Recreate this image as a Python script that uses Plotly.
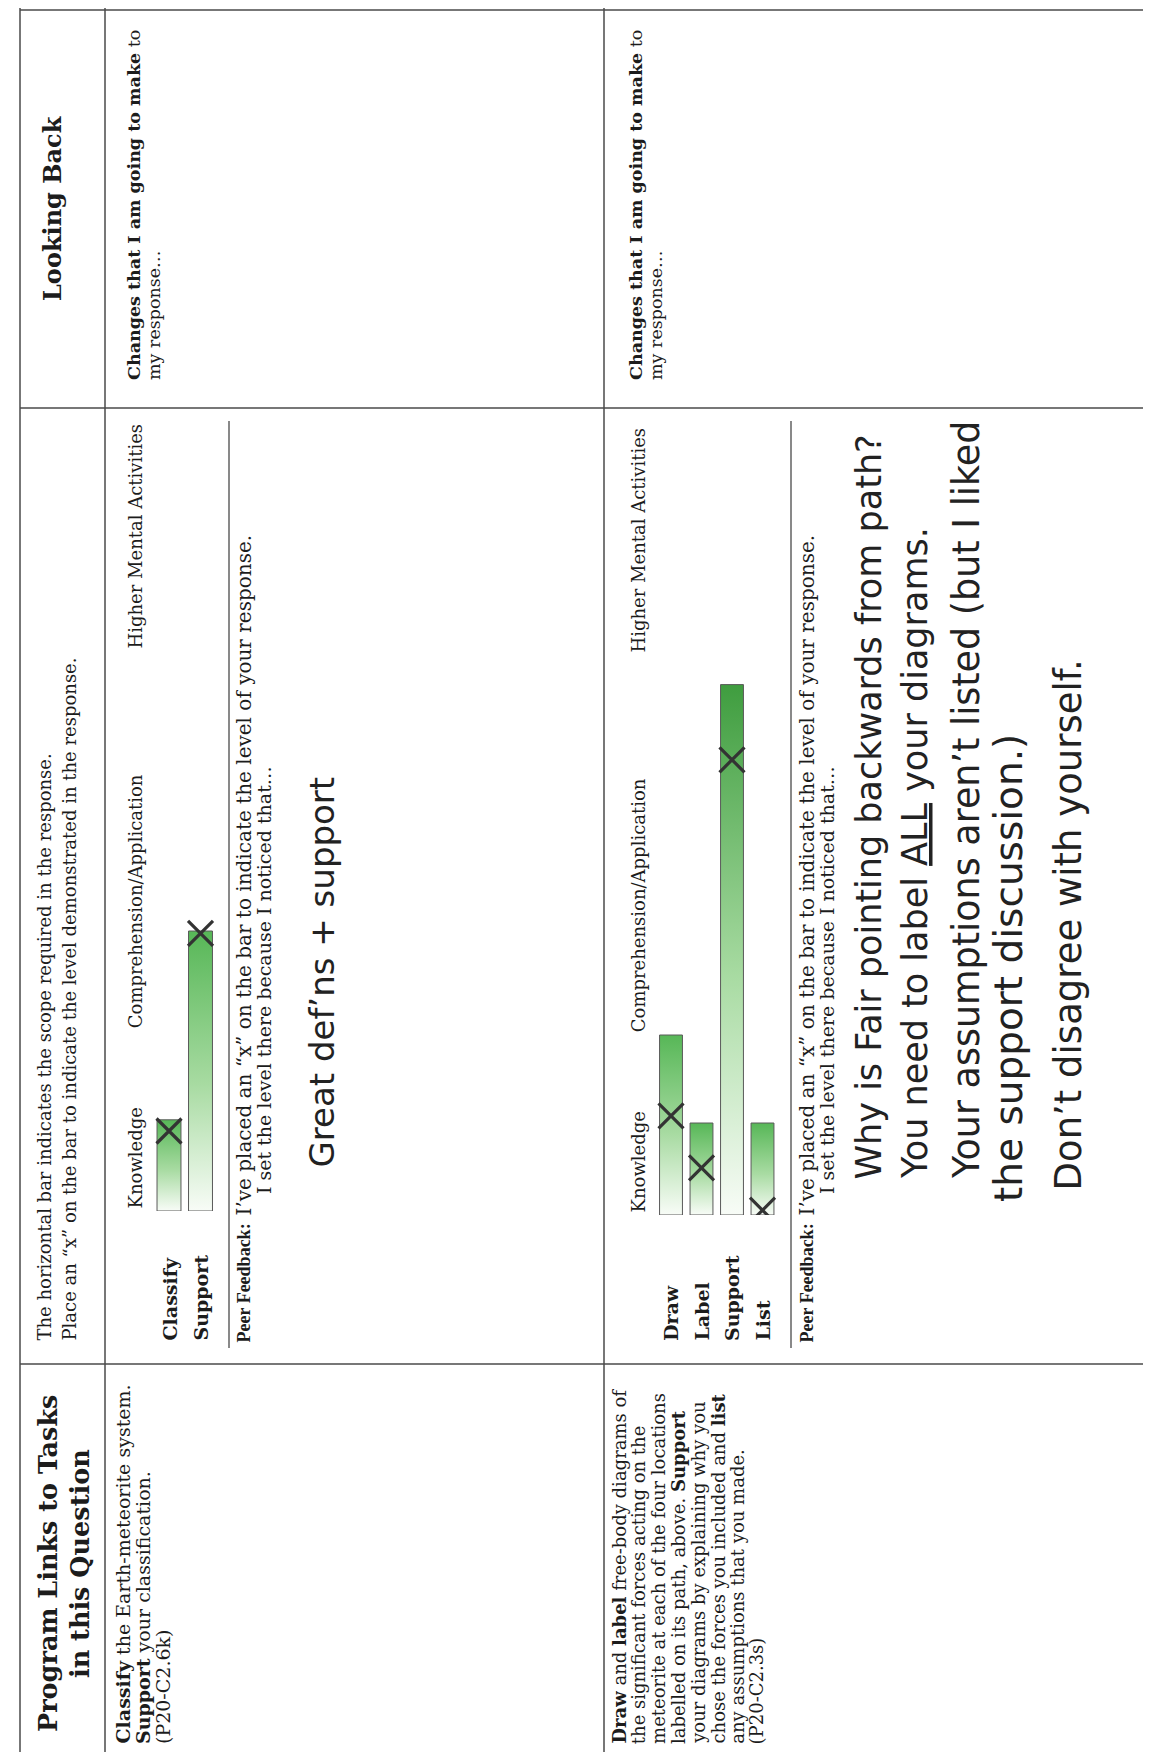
import plotly.graph_objects as go

W, H = 1151, 1752

# ---------------- data ----------------
level_names = ["Knowledge", "Comprehension/Application", "Higher Mental Activities"]
level_starts = [0.0, 2.26, 7.0]

q1_tasks = ["Classify", "Support"]
q1_scope = [1.14, 3.50]
q1_marks = [1.00, 3.47]

q2_tasks = ["Draw", "Label", "Support", "List"]
q2_scope = [2.25, 1.15, 6.63, 1.15]
q2_marks = [1.24, 0.59, 5.69, 0.06]

header_left = ["Program Links to Tasks", "in this Question"]
header_right = "Looking Back"
instructions = [
    "The horizontal bar indicates the scope required in the response.",
    "Place an \u201cx\u201d on the bar to indicate the level demonstrated in the response.",
]
q1_task_text = [
    "<b>Classify</b> the Earth-meteorite system.",
    "<b>Support</b> your classification.",
    "(P20-C2.6k)",
]
q2_task_text = [
    "<b>Draw</b> and <b>label</b> free-body diagrams of",
    "the significant forces acting on the",
    "meteorite at each of the four locations",
    "labelled on its path, above. <b>Support</b>",
    "your diagrams by explaining why you",
    "chose the forces you included and <b>list</b>",
    "any assumptions that you made.",
    "(P20-C2.3s)",
]
peer_lines = [
    "I\u2019ve placed an \u201cx\u201d on the bar to indicate the level of your response.",
    "I set the level there because I noticed that\u2026",
]
changes_lines = ["<b>Changes that I am going to make</b> to", "my response\u2026"]
q1_comment = ["Great def\u2019ns + support"]
q2_comment = [
    "Why is Fair pointing backwards from path?",
    "You need to label <u>ALL</u> your diagrams.",
    "Your assumptions aren\u2019t listed (but I liked",
    "the support discussion.)",
    "Don\u2019t disagree with yourself.",
]

# ---------------- helpers ----------------
SERIF = "DejaVu Serif"
TIMES = "Liberation Serif"
HAND = "DejaVu Sans"
INK = "#1c1c1c"

def px(x):
    return x / W

def py(y):
    return 1 - y / H

annotations = []
shapes = []

def vtext(x, y, text, size, anchor="bottom", family=SERIF, color=INK):
    annotations.append(dict(
        x=px(x), y=py(y), xref="paper", yref="paper", text=text,
        textangle=-90, showarrow=False, xanchor="center", yanchor=anchor,
        font=dict(family=family, size=size, color=color)))

def hline(y, x0, x1, w=1.5, c="#4a4a4a"):
    shapes.append(dict(type="line", xref="paper", yref="paper",
                       x0=px(x0), x1=px(x1), y0=py(y), y1=py(y),
                       line=dict(color=c, width=w)))

def vline(x, y0, y1, w=1.5, c="#4a4a4a"):
    shapes.append(dict(type="line", xref="paper", yref="paper",
                       x0=px(x), x1=px(x), y0=py(y0), y1=py(y1),
                       line=dict(color=c, width=w)))

# ---------------- table grid ----------------
vline(12, 0, H)
vline(97, 0, H)
vline(596, 0, H)
vline(1148, 0, H, w=1, c="#9a9a9a")
hline(2, 12, W)
hline(1749, 12, W)
hline(400, 12, W)
hline(1356, 12, W)
vline(221, 413, 1340, w=1.3)
vline(783, 413, 1340, w=1.3)

# ---------------- header texts ----------------
vtext(40, 1556, "<b>%s</b>" % header_left[0], 25.5, anchor="middle")
vtext(72, 1556, "<b>%s</b>" % header_left[1], 25.5, anchor="middle")
vtext(45, 200, "<b>%s</b>" % header_right, 24, anchor="middle")
vtext(36, 1335, instructions[0], 18)
vtext(61, 1335, instructions[1], 18)

# ---------------- row texts ----------------
for i, t in enumerate(q1_task_text):
    vtext(114 + 20.5 * i, 1738, t, 19)
for i, t in enumerate(q2_task_text):
    vtext(611 + 19.7 * i, 1738, t, 18)

for xc in (126, 628):
    vtext(xc, 374, changes_lines[0], 17.5)
    vtext(xc + 20, 374, changes_lines[1], 17.5)

for xc in (235, 798):
    vtext(xc, 1337, "<b>Peer Feedback:</b>", 18, family=TIMES)
    vtext(xc, 1210, peer_lines[0], 20)
    vtext(xc + 21, 1188, peer_lines[1], 19)

vtext(313, 1162, q1_comment[0], 34, family=HAND, color="#222")
hand_pos = [(860, 1173), (907, 1173), (958, 1173), (1000, 1196), (1060, 1185)]
hand_size = [35, 35, 36.5, 39, 37]
for (xc, yb), t, s in zip(hand_pos, q2_comment, hand_size):
    vtext(xc, yb, t, s, family=HAND, color="#222")

# ---------------- bar charts ----------------
fig = go.Figure()

def bar_color_scale(v):
    top = "#57b757" if v < 4 else "#3f9d3f"
    return [[0, "#f8fcf7"], [0.45, "#a8dba2"], [1, top]]

def add_rating(tasks, scope, marks, xa, ya, bw, level_x):
    for i, (v, m) in enumerate(zip(scope, marks)):
        fig.add_trace(go.Scatter(
            x=[i - bw / 2, i + bw / 2, i + bw / 2, i - bw / 2, i - bw / 2],
            y=[0, 0, v, v, 0],
            mode="lines", fill="toself",
            fillgradient=dict(type="vertical", colorscale=bar_color_scale(v)),
            line=dict(color="#5a5a5a", width=1),
            xaxis=xa, yaxis=ya, hoverinfo="skip", showlegend=False))
    fig.add_trace(go.Scatter(
        x=list(range(len(marks))), y=marks, mode="markers",
        marker=dict(symbol="x-thin", size=25,
                    line=dict(width=3.2, color="#333333")),
        xaxis=xa, yaxis=ya, hoverinfo="skip", showlegend=False))
    for i, t in enumerate(tasks):
        annotations.append(dict(x=i, xref=xa, y=py(1335), yref="paper",
                                text="<b>%s</b>" % t, textangle=-90,
                                showarrow=False, xanchor="center",
                                yanchor="bottom",
                                font=dict(family=SERIF, size=19, color=INK)))
    for name, s in zip(level_names, level_starts):
        annotations.append(dict(x=px(level_x), xref="paper", y=s, yref=ya,
                                text=name, textangle=-90, showarrow=False,
                                xanchor="center", yanchor="bottom",
                                font=dict(family=SERIF, size=18, color=INK)))

add_rating(q1_tasks, q1_scope, q1_marks, "x", "y", 0.76, 127)
add_rating(q2_tasks, q2_scope, q2_marks, "x2", "y2", 0.75, 630)

def xrange_for(d0, d1, c0, ppu):
    return [(d0 - c0) / ppu, (d1 - c0) / ppu]

ax_common = dict(visible=False, showgrid=False, zeroline=False, fixedrange=True)
fig.update_layout(
    width=W, height=H,
    margin=dict(l=0, r=0, t=0, b=0),
    paper_bgcolor="white", plot_bgcolor="rgba(0,0,0,0)",
    showlegend=False,
    xaxis=dict(domain=[px(140), px(215)], range=xrange_for(140, 215, 161, 31.5),
               anchor="y", **ax_common),
    yaxis=dict(domain=[py(1203), py(403)], range=[0, 10], anchor="x", **ax_common),
    xaxis2=dict(domain=[px(640), px(775)], range=xrange_for(640, 775, 663, 30.5),
                anchor="y2", **ax_common),
    yaxis2=dict(domain=[py(1207), py(407)], range=[0, 10], anchor="x2", **ax_common),
    annotations=annotations,
    shapes=shapes,
)

fig.write_html("out.html")
